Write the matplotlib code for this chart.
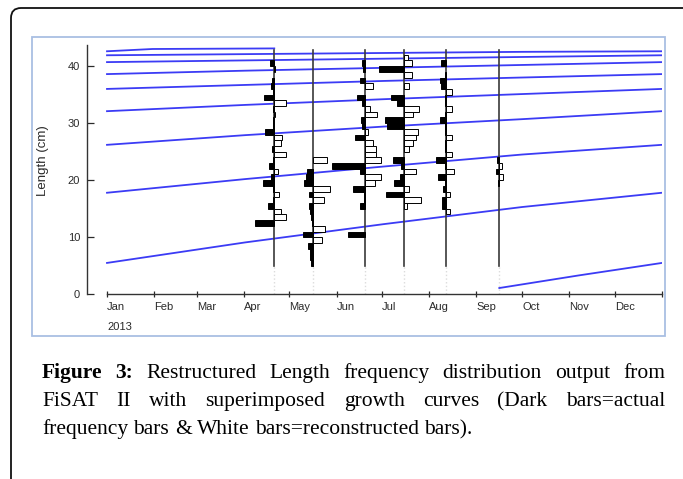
import numpy as np
import matplotlib.pyplot as plt
from matplotlib.patches import FancyBboxPatch, Rectangle
from matplotlib.transforms import IdentityTransform

plt.rcParams['font.family'] = ['Liberation Sans', 'DejaVu Sans']

# ---- data ----
months = ['Jan', 'Feb', 'Mar', 'Apr', 'May', 'Jun',
          'Jul', 'Aug', 'Sep', 'Oct', 'Nov', 'Dec']
month_start = [0, 31, 59, 90, 120, 151, 181, 212, 243, 273, 304, 334]
yticks = [0, 10, 20, 30, 40]

# growth curves (length in cm at day of year)
growth_days = [0, 91, 182, 273, 365]
g1 = [41.9, 42.1, 42.3, 42.5, 42.6]
g2 = [40.7, 41.0, 41.3, 41.6, 41.9]
g3 = [38.6, 39.2, 39.7, 40.2, 40.7]
g4 = [36.0, 36.7, 37.4, 38.0, 38.6]
g5 = [32.1, 33.2, 34.2, 35.1, 36.0]
g6 = [26.2, 27.9, 29.4, 30.7, 32.1]
g7 = [17.8, 20.2, 22.4, 24.5, 26.2]
g8 = [5.5, 9.1, 12.3, 15.3, 17.8]
gtop_days = [0, 30, 110]
gtop = [42.6, 43.0, 43.1]
gnew_days = [258, 310, 365]
gnew = [1.1, 3.3, 5.5]

# samples: day of year and restructured frequencies for 1 cm bins from 5 cm
# (+ = dark bar, - = white bar)
sample_days = [110, 135.5, 170, 195, 223, 258]
bin_start = 5
s1 = [0, 0, 0, 0, 0, 0, 0, 19, -12, -7, 6, 1, -5, 1, 11, 3, -4, 5, 1, -12,
      2, -7, -8, 9, 1, 1, -1, 1, -12, 10, 1, 3, 2, 0, -1, 4, 0, 0]
s2 = [2, 3, 3, 5, -9, 10, -12, 1, 2, 3, 4, -11, 4, -17, 9, 7, 6, 0, -14, 0,
      0, 0, 0, 0, 0, 0, 0, 0, 0, 0, 0, 0, 0, 0, 0, 0, 0, 0]
s3 = [0, 0, 0, 0, 0, 17, 0, 0, 0, 0, 5, 1, 1, 12, -10, -16, 5, 33, -16, -11,
      -11, -8, 10, -3, 3, 4, -12, -5, 3, 8, 0, -8, 5, 0, 2, 3, 0, 0]
s4 = [0, 0, 0, 0, 0, 0, 0, 0, 0, 0, -3, -17, 18, -5, 10, 4, -12, 3, 11, 0,
      -5, -9, -12, -14, 17, 19, -9, -15, 7, 13, 0, -5, 0, -8, 25, -8, -4, 0]
s5 = [0, 0, 0, 0, 0, 0, 0, 0, 0, -4, 4, 4, -4, 3, 1, 8, -8, 1, 10, -6,
      1, 1, -6, 1, 1, 6, 1, -6, 1, 1, -6, 5, 6, 1, 0, 5, 0, 0]
s6 = [0, 0, 0, 0, 0, 0, 0, 0, 0, 0, 0, 0, 0, 0, 1, -4, 3, -3, 2, 0,
      0, 0, 0, 0, 0, 0, 0, 0, 0, 0, 0, 0, 0, 0, 0, 0, 0, 0]
samples = [s1, s2, s3, s4, s5, s6]

W, H = 683, 479
fig = plt.figure(figsize=(W / 100, H / 100), dpi=100)

# outer rounded box and light blue chart frame
fig.patches.append(FancyBboxPatch((11, -40), 690, 471 + 40, boxstyle='round,pad=0,rounding_size=10',
                                  transform=IdentityTransform(), fill=False,
                                  edgecolor='#111111', linewidth=1.3))
fig.patches.append(Rectangle((32, H - 336), 633, 299, transform=IdentityTransform(),
                             fill=False, edgecolor='#a9bfe3', linewidth=1.3))

ax = fig.add_axes([87 / W, (H - 294.3) / H, 575 / W, 249.3 / H])
ax.set_xlim(-13.15, 365)
ax.set_ylim(0, 43.7)
ax.patch.set_visible(False)
for s in ['top', 'right']:
    ax.spines[s].set_visible(False)
ax.spines['bottom'].set_bounds(0, 365)
ax.spines['left'].set_bounds(0, 43.7)
for s in ['bottom', 'left']:
    ax.spines[s].set_color('#333333')
    ax.spines[s].set_linewidth(1.0)

ax.set_xticks(month_start + [365])
ax.set_xticklabels(months + [''], ha='left')
ax.set_yticks(yticks)
ax.tick_params(axis='x', direction='inout', length=5, width=0.9, pad=3.0,
               labelsize=8, colors='#2a2a2a')
ax.tick_params(axis='y', direction='in', length=5, width=0.9, pad=5,
               labelsize=8, colors='#2a2a2a')

# growth curves
blue = '#3b3bf5'
for g in [g1, g2, g3, g4, g5, g6, g7, g8]:
    ax.plot(growth_days, g, color=blue, lw=1.3, zorder=2)
ax.plot(gtop_days, gtop, color=blue, lw=1.3, zorder=2)
ax.plot(gnew_days, gnew, color=blue, lw=1.3, zorder=2)

# sample lines and restructured bars
px_per_day = 575 / 378.15
bins = np.arange(bin_start, bin_start + len(s1))
for day, vals in zip(sample_days, samples):
    ax.plot([day, day], [5, 42.9], color='#3a3a3a', lw=1.2, zorder=3)
    ax.plot([day, day], [0, 5], color='#dcdcdc', lw=1.0, ls=':', zorder=1)
    vals = np.array(vals, dtype=float)
    dark = vals > 0
    white = vals < 0
    ax.barh(bins[dark], -vals[dark] / px_per_day, left=day, height=1, align='edge',
            color='black', edgecolor='black', linewidth=0.7, zorder=4)
    ax.barh(bins[white], -vals[white] / px_per_day, left=day, height=1, align='edge',
            color='white', edgecolor='black', linewidth=0.7, zorder=4)

fig.text(43, H - 161, 'Length (cm)', rotation=90, ha='center', va='center',
         fontsize=9.5, color='#2a2a2a', transform=IdentityTransform())
fig.text(107, H - 327, '2013', ha='left', va='center', fontsize=8,
         color='#2a2a2a', transform=IdentityTransform())

# justified caption
renderer = fig.canvas.get_renderer()
cap_size = 15.5
serif = ['Liberation Serif', 'DejaVu Serif']


def caption_line(words, y, x0=42, x1=665, justify=True):
    texts = []
    for w, bold in words:
        t = fig.text(x0, H - y, w, fontsize=cap_size, family=serif,
                     fontweight='bold' if bold else 'normal', va='baseline',
                     ha='left', transform=IdentityTransform())
        texts.append(t)
    widths = [t.get_window_extent(renderer).width for t in texts]
    if justify:
        gap = (x1 - x0 - sum(widths)) / (len(texts) - 1)
    else:
        gap = cap_size * 100 / 72 * 0.25
    x = x0
    for t, w in zip(texts, widths):
        t.set_x(x)
        x += w + gap


line1 = [('Figure', True), ('3:', True)] + [(w, False) for w in
         'Restructured Length frequency distribution output from'.split()]
line2 = [(w, False) for w in
         'FiSAT II with superimposed growth curves (Dark bars=actual'.split()]
line3 = [(w, False) for w in
         'frequency bars & White bars=reconstructed bars).'.split()]
caption_line(line1, 378)
caption_line(line2, 406)
caption_line(line3, 434, justify=False)

fig.savefig('out.png', dpi=100)
